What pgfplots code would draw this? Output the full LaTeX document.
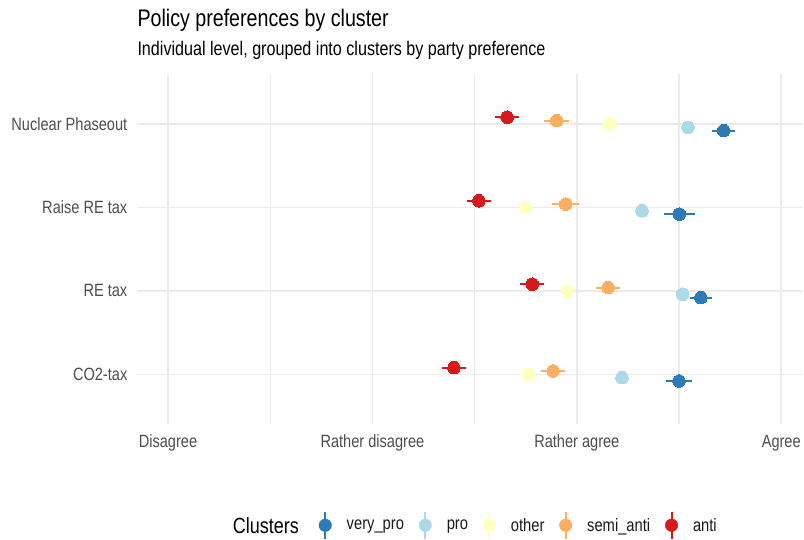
\documentclass[border=0pt]{standalone}
\usepackage{pgfplots}
\pgfplotsset{compat=1.18}
\usepackage{fontspec}
\setmainfont{Liberation Sans}[FakeStretch=0.82]
\definecolor{verypro}{HTML}{2C7BB6}
\definecolor{pro}{HTML}{ABD9E9}
\definecolor{other}{HTML}{FFFFBF}
\definecolor{semianti}{HTML}{FDAE61}
\definecolor{anti}{HTML}{D7191C}
\definecolor{gridc}{HTML}{EBEBEB}
\definecolor{axtext}{HTML}{4D4D4D}
\pgfplotsset{
  ser/.style={only marks, mark=*, mark size=6.3pt, color=#1,
    mark options={fill=#1, draw=#1, line width=0pt, solid},
    legend image code/.code={\draw[line width=2pt,#1] (0pt,-13.5pt)--(0pt,13.5pt); \fill[#1] (0pt,0pt) circle (6.3pt);},
    error bars/x dir=both, error bars/x explicit, error bars/error mark=none,
    error bars/error bar style={line width=2pt, color=#1, solid}}
}
\begin{document}
\begin{tikzpicture}[x=1pt,y=1pt]
\path (0,0) rectangle (804,540);
\node[anchor=base west, inner sep=0pt, font=\fontsize{24}{28}\selectfont] at (137.5,513) {Policy preferences by cluster};
\node[anchor=base west, inner sep=0pt, font=\fontsize{19.7}{23}\selectfont] at (137.5,484) {Individual level, grouped into clusters by party preference};
\node[anchor=west, inner sep=0pt, font=\fontsize{22}{26}\selectfont] at (233,14) {Clusters};
\begin{axis}[at={(137.5pt,115pt)}, anchor=south west, scale only axis,
  width=666.5pt, height=351pt,
  xmin=0.85, xmax=4.106, ymin=0.4, ymax=4.6,
  axis line style={draw=none}, tick style={draw=none},
  major tick length=0pt, minor tick length=0pt,
  xtick={1,2,3,4}, minor xtick={1.5,2.5,3.5},
  xticklabels={Disagree,Rather disagree,Rather agree,Agree},
  ytick={1,2,3,4},
  yticklabels={CO2-tax,RE tax,Raise RE tax,Nuclear Phaseout},
  xmajorgrids, xminorgrids, ymajorgrids,
  major grid style={draw=gridc, line width=1.6pt},
  minor grid style={draw=gridc, line width=1.3pt},
  ticklabel style={font=\fontsize{17.8}{20}\selectfont, text=axtext},
  xticklabel style={yshift=-7pt},
  yticklabel style={xshift=-6.5pt},
  legend columns=5,
  legend style={at={(0.2723,-0.2877)}, anchor=west, draw=none, fill=none, inner sep=0pt,
    font=\fontsize{18}{20}\selectfont, text=black!90,
    nodes={inner sep=0pt},
    /tikz/every odd column/.append style={column sep=15pt},
    /tikz/every even column/.append style={column sep=14.8pt}},
]
\addplot[ser=verypro] coordinates {
 (3.718,3.92) +- (0.058,0)
 (3.502,2.92) +- (0.075,0)
 (3.607,1.92) +- (0.055,0)
 (3.500,0.92) +- (0.064,0)
};
\addlegendentry{very\_pro}
\addplot[ser=pro] coordinates {
 (3.544,3.96) +- (0.025,0)
 (3.319,2.96) +- (0.025,0)
 (3.518,1.96) +- (0.025,0)
 (3.221,0.96) +- (0.025,0)
};
\addlegendentry{pro}
\addplot[ser=other] coordinates {
 (3.161,4.00) +- (0.025,0)
 (2.749,3.00) +- (0.025,0)
 (2.956,2.00) +- (0.025,0)
 (2.762,1.00) +- (0.025,0)
};
\addlegendentry{other}
\addplot[ser=semianti] coordinates {
 (2.901,4.04) +- (0.062,0)
 (2.946,3.04) +- (0.065,0)
 (3.153,2.04) +- (0.057,0)
 (2.884,1.04) +- (0.060,0)
};
\addlegendentry{semi\_anti}
\addplot[ser=anti] coordinates {
 (2.659,4.08) +- (0.059,0)
 (2.521,3.08) +- (0.060,0)
 (2.782,2.08) +- (0.058,0)
 (2.399,1.08) +- (0.059,0)
};
\addlegendentry{anti}
\end{axis}
\end{tikzpicture}
\end{document}
